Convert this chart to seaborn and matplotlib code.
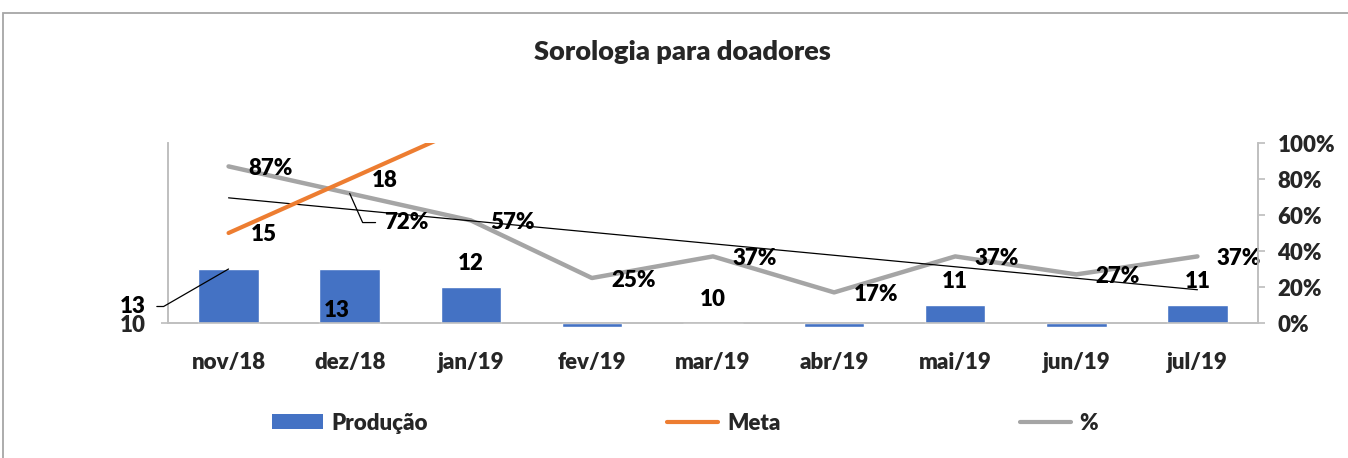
import matplotlib.pyplot as plt
import numpy as np
import pandas as pd
import seaborn as sns
from matplotlib.lines import Line2D
from matplotlib.patches import Patch, Rectangle
from matplotlib.ticker import FixedLocator, PercentFormatter

# dados
meses = ["nov/18", "dez/18", "jan/19", "fev/19", "mar/19", "abr/19", "mai/19", "jun/19", "jul/19"]
producao = [13, 13, 12, 9.8, 10, 9.8, 11, 9.8, 11]
meta = [15, 18, 21, np.nan, np.nan, np.nan, np.nan, np.nan, np.nan]
percentual = [0.87, 0.72, 0.57, 0.25, 0.37, 0.17, 0.37, 0.27, 0.37]
rotulos_producao = ["13", "13", "12", "", "10", "", "11", "", "11"]

AZUL = "#4472C4"
LARANJA = "#ED7D31"
CINZA = "#A5A5A5"
EIXO = "#BFBFBF"
BASE = 10
FS = 16
PESO = "heavy"

sns.set_theme(style="white")
plt.rcParams["font.family"] = ["Lato", "DejaVu Sans"]
plt.rcParams["font.weight"] = PESO

df = pd.DataFrame({"mes": meses, "pos": np.arange(len(meses)), "producao": producao,
                   "meta": meta, "percentual": percentual})

fig = plt.figure(figsize=(13.48, 4.58), dpi=100)
ax = fig.add_axes([168 / 1348, 1 - 323 / 458, 1090 / 1348, 180 / 458])
ax2 = ax.twinx()

# barras partindo do valor base do eixo (10); as menores que 10 descem abaixo do eixo
ax.bar(df["pos"], df["producao"] - BASE, bottom=BASE, width=0.5, color=AZUL, zorder=2,
       clip_on=False)
sns.lineplot(data=df, x="pos", y="meta", ax=ax, color=LARANJA, linewidth=3, zorder=3)
sns.lineplot(data=df, x="pos", y="percentual", ax=ax2, color=CINZA, linewidth=3.2, zorder=3)

coef = np.polyfit(df["pos"], df["percentual"], 1)
tendencia = np.polyval(coef, df["pos"])
ax2.plot(df["pos"], tendencia, color="black", linewidth=0.9, zorder=4)

ax.set_xlim(-0.5, len(meses) - 0.5)
ax.set_ylim(10, 20)
ax2.set_ylim(0, 1)

ax.set_xticks(df["pos"])
ax.set_xticklabels(meses, fontsize=FS, fontweight=PESO)
ax.xaxis.set_minor_locator(FixedLocator(np.arange(-0.5, len(meses), 1)))
ax.tick_params(axis="x", which="major", length=0, pad=21)
ax.tick_params(axis="x", which="minor", length=5, direction="out", color=EIXO, width=1)
ax.set_yticks([10])
ax.set_yticklabels(["10"], fontsize=FS, fontweight=PESO)
ax.tick_params(axis="y", length=5, direction="out", color=EIXO, pad=11, left=True)

ax2.set_yticks(np.arange(0, 1.01, 0.2))
ax2.yaxis.set_major_formatter(PercentFormatter(1.0, decimals=0))
ax2.tick_params(axis="y", length=5, direction="out", color=EIXO, labelsize=FS, pad=9, right=True)
for lab in ax2.get_yticklabels():
    lab.set_fontweight(PESO)

for a in (ax, ax2):
    a.set_xlabel("")
    a.set_ylabel("")
    a.spines["top"].set_visible(False)
    for s in ("left", "right", "bottom"):
        a.spines[s].set_color(EIXO)
        a.spines[s].set_linewidth(1.2)
    a.grid(False)
ax.set_zorder(ax2.get_zorder() + 1)
ax.patch.set_visible(False)

rotulo = dict(fontsize=FS, fontweight=PESO, color="black", textcoords="offset points")

# rotulos de producao
for i, (valor, txt) in enumerate(zip(producao, rotulos_producao)):
    if not txt:
        continue
    if i == 0:
        ax.annotate(txt, xy=(i, valor), xytext=(-60, -27), ha="right", va="center",
                    arrowprops=dict(arrowstyle="-", color="black", lw=0.9, shrinkA=6, shrinkB=0,
                                    connectionstyle="angle,angleA=0,angleB=30,rad=0"),
                    **rotulo)
    elif i == 1:
        ax.annotate(txt, xy=(i, valor), xytext=(-9, -30), ha="center", va="center", **rotulo)
    else:
        ax.annotate(txt, xy=(i, valor), xytext=(0, 17), ha="center", va="center", **rotulo)

# rotulos da meta
for i, valor in enumerate(meta):
    if np.isnan(valor) or valor > 20:
        continue
    ax.annotate(f"{valor:.0f}", xy=(i, valor), xytext=(16, -1), ha="left", va="center", **rotulo)

# rotulos do percentual
for i, valor in enumerate(percentual):
    txt = f"{valor * 100:.0f}%"
    if i == 1:
        ax2.annotate(txt, xy=(i, valor), xytext=(25, -21), ha="left", va="center",
                     arrowprops=dict(arrowstyle="-", color="black", lw=0.9, shrinkA=4, shrinkB=0,
                                     connectionstyle="angle,angleA=0,angleB=-66,rad=0"),
                     **rotulo)
    else:
        ax2.annotate(txt, xy=(i, valor), xytext=(14, -1.5), ha="left", va="center", **rotulo)

fig.text(682 / 1348, 1 - 52 / 458, "Sorologia para doadores", ha="center", va="center",
         fontsize=19.5, fontweight=PESO)

handles = [Patch(facecolor=AZUL, edgecolor="none"),
           Line2D([], [], color=LARANJA, linewidth=3),
           Line2D([], [], color=CINZA, linewidth=3)]
fig.legend(handles, ["Produção", "Meta", "%"], loc="center", ncol=3,
           bbox_to_anchor=(685 / 1348, 1 - 423 / 458), frameon=False,
           prop={"size": FS, "weight": PESO}, handlelength=2.3, handleheight=0.65,
           handletextpad=0.4, columnspacing=10.75)

fig.add_artist(Rectangle((3 / 1348, -0.05), 1.1, 1.05 - 13 / 458, transform=fig.transFigure,
                         fill=False, edgecolor="#A6A6A6", linewidth=1.3, clip_on=False))

fig.savefig("out.png", dpi=100)
